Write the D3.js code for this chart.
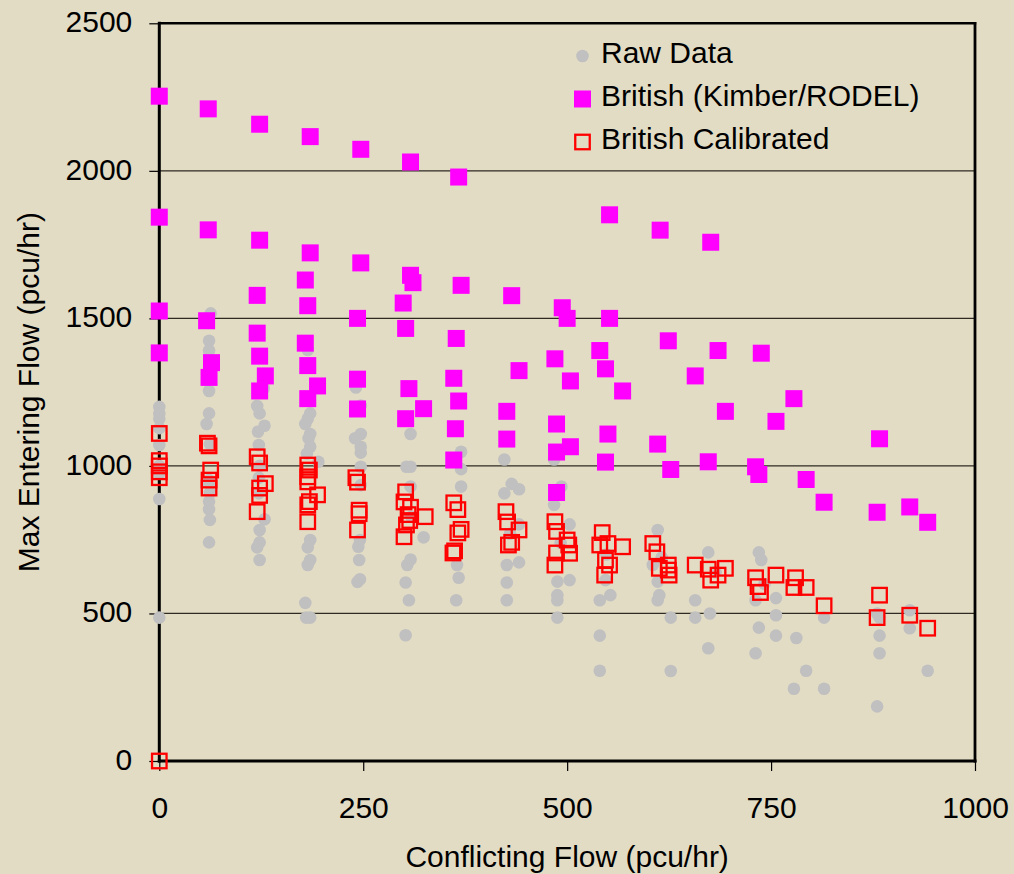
<!DOCTYPE html>
<html>
<head>
<meta charset="utf-8">
<script src="https://cdn.jsdelivr.net/npm/d3@7"></script>
<style>
  html, body { margin: 0; padding: 0; background: rgb(227,220,197); }
  svg { display: block; }
  text { font-family: "Liberation Sans", Arial, sans-serif; fill: #000; }
</style>
</head>
<body>
<svg id="chart" width="1014" height="874"></svg>
<script>
// ---- Data ----
const seriesNames = ["Raw Data", "British (Kimber/RODEL)", "British Calibrated"];
const xTicks = [0, 250, 500, 750, 1000];
const yTicks = [0, 500, 1000, 1500, 2000, 2500];

// Raw Data: conflicting flow / max entering flow
const rawX = [0,0,0,0,0,0,0,0,0,
  63,61,61,61,61,58,62,61,62,61,61,61,62,61,
  128,120,123,129,121,122,123,122,122,129,123,123,120,123,
  182,182,185,179,185,183,185,195,181,185,182,185,182,179,180,185,
  241,247,247,240,247,247,247,247,244,246,245,246,243,
  308,303,308,308,309,324,308,304,302,306,302,
  370,370,370,365,367,364,
  423,432,423,441,426,441,426,426,441,430,
  484,493,484,503,488,503,488,488,488,492,
  540,553,540,540,547,548,
  611,605,611,613,611,627,627,616,
  673,657,657,675,673,682,
  735,738,731,756,756,735,756,731,742,
  781,793,778,815,815,
  883,883,883,880,880,
  920,920,942];
const rawY = [1200,1178,1128,1071,1000,975,888,486,1160,
  1517,1424,1391,1254,1178,1142,1074,952,908,941,879,853,817,741,
  1263,1203,1178,1136,1116,1071,1000,960,907,819,783,741,724,681,
  1393,1160,1178,1142,1108,1094,1065,1014,1042,749,724,681,664,536,486,486,
  1266,1108,1065,1094,1045,997,935,1205,726,749,681,616,607,
  1108,997,997,930,828,758,683,664,605,545,426,
  1048,989,930,664,621,545,
  1022,939,907,921,664,673,605,545,802,770,
  1022,930,868,802,608,613,562,545,486,740,
  545,562,425,306,613,700,
  783,664,608,562,545,486,305,690,
  707,545,486,500,382,640,
  707,681,545,552,494,452,425,365,600,
  417,306,245,486,245,
  486,425,365,185,500,
  511,450,306];

// British (Kimber/RODEL)
const britX = [0,0,0,0,
  60,60,58,64,61,
  123,123,120,120,123,130,123,
  185,185,179,182,179,182,194,182,
  247,247,243,243,243,
  308,308,311,299,302,306,324,302,
  367,370,364,361,367,363,361,
  432,441,426,426,
  494,500,485,504,487,504,487,487,
  552,552,540,547,568,550,547,
  614,624,657,611,627,
  676,685,694,673,
  738,778,756,731,735,793,815,
  883,880,920,942];
const britY = [2253,1843,1525,1383,
  2210,1800,1492,1350,1300,
  2158,1765,1578,1450,1372,1305,1254,
  2116,1722,1630,1543,1416,1340,1271,1228,
  2073,1688,1500,1294,1193,
  2030,1646,1621,1552,1466,1262,1194,1160,
  1979,1612,1432,1297,1220,1126,1020,
  1577,1323,1185,1091,
  1536,1500,1363,1288,1142,1065,1047,910,
  1851,1500,1391,1329,1254,1108,1013,
  1799,1424,1305,1074,988,
  1758,1391,1185,1014,
  1382,1228,1151,997,971,954,877,
  1092,843,861,809];

// British Calibrated
const calX = [0,0,0,0,0,0,
  59,61,63,61,61,
  120,123,130,123,123,120,
  182,184,182,182,194,184,182,182,
  241,243,245,245,243,
  302,300,308,305,307,303,300,326,
  361,366,370,366,362,360,
  425,427,441,428,432,
  485,487,500,502,487,503,485,
  543,540,550,568,547,552,546,
  605,610,613,624,625,624,
  657,673,694,676,685,
  731,734,737,756,780,778,793,815,
  883,880,920,942];
const calY = [1110,1018,1000,980,960,0,
  1077,1068,986,952,925,
  1031,1010,940,925,900,845,
  1003,986,963,946,902,879,868,811,
  960,945,850,838,783,
  912,878,860,835,815,800,760,828,
  875,852,785,773,712,705,
  845,810,783,732,741,
  811,778,749,732,705,704,664,
  774,732,737,726,681,664,630,
  737,709,653,664,630,647,
  664,650,653,613,630,
  621,591,571,630,621,588,588,526,
  562,486,494,450];

// ---- Chart ----
const svg = d3.select("#chart");
const x = d3.scaleLinear().domain([0, 1000]).range([159.3, 975]);
const y = d3.scaleLinear().domain([0, 2500]).range([761, 23.3]);
const fmt = d3.format("d");

// gridlines
svg.append("g")
  .selectAll("line")
  .data(yTicks.filter(d => d > 0 && d < 2500))
  .join("line")
  .attr("x1", x(0)).attr("x2", x(1000))
  .attr("y1", d => y(d)).attr("y2", d => y(d))
  .attr("stroke", "#2e2a22").attr("stroke-width", 1.2);

// axes (ticks + labels)
const yAxis = d3.axisLeft(y).tickValues(yTicks).tickFormat(fmt).tickSize(10).tickPadding(17).tickSizeOuter(0);
const gy = svg.append("g").attr("transform", `translate(${x(0)},0)`).call(yAxis);
gy.select(".domain").remove();
gy.selectAll(".tick line").attr("stroke", "#000").attr("stroke-width", 1.2);
gy.selectAll(".tick text").attr("font-size", 30).attr("dy", "0.28em")
  .style("font-family", '"Liberation Sans", Arial, sans-serif');

const xAxis = d3.axisBottom(x).tickValues(xTicks).tickFormat(fmt).tickSize(10).tickPadding(26).tickSizeOuter(0);
const gx = svg.append("g").attr("transform", `translate(0,${y(0)})`).call(xAxis);
gx.select(".domain").remove();
gx.selectAll(".tick line").attr("stroke", "#000").attr("stroke-width", 1.2);
gx.selectAll(".tick text").attr("font-size", 30)
  .style("font-family", '"Liberation Sans", Arial, sans-serif');

// plot frame
const frame = svg.append("g").attr("stroke", "#000").attr("stroke-linecap", "square");
frame.append("line").attr("x1", x(0)).attr("x2", x(1000)).attr("y1", y(2500)).attr("y2", y(2500)).attr("stroke-width", 2.5);
frame.append("line").attr("x1", x(1000)).attr("x2", x(1000)).attr("y1", y(2500)).attr("y2", y(0)).attr("stroke-width", 2.8);
frame.append("line").attr("x1", x(0)).attr("x2", x(0)).attr("y1", y(2500)).attr("y2", y(0)).attr("stroke-width", 3);
frame.append("line").attr("x1", x(0)).attr("x2", x(1000)).attr("y1", y(0)).attr("y2", y(0)).attr("stroke-width", 3);

// axis titles
svg.append("text").attr("x", (x(0) + x(1000)) / 2).attr("y", 867)
  .attr("text-anchor", "middle").attr("font-size", 30).text("Conflicting Flow (pcu/hr)");
svg.append("text").attr("transform", `translate(38.5,${(y(0) + y(2500)) / 2}) rotate(-90)`)
  .attr("text-anchor", "middle").attr("font-size", 30).text("Max Entering Flow (pcu/hr)");

// series
const raw = rawX.map((d, i) => ({x: d, y: rawY[i]}));
const brit = britX.map((d, i) => ({x: d, y: britY[i]}));
const cal = calX.map((d, i) => ({x: d, y: calY[i]}));

svg.append("g").selectAll("circle").data(raw).join("circle")
  .attr("cx", d => x(d.x)).attr("cy", d => y(d.y)).attr("r", 6.3)
  .attr("fill", "#c0c0c0");

const bs = 17;
svg.append("g").selectAll("rect").data(brit).join("rect")
  .attr("x", d => x(d.x) - bs / 2).attr("y", d => y(d.y) - bs / 2)
  .attr("width", bs).attr("height", bs).attr("fill", "#ff00ff");

const cs = 14.5;
svg.append("g").selectAll("rect").data(cal).join("rect")
  .attr("x", d => x(d.x) - cs / 2).attr("y", d => y(d.y) - cs / 2)
  .attr("width", cs).attr("height", cs).attr("fill", "none")
  .attr("stroke", "#ff0000").attr("stroke-width", 2.3);

// legend
const lg = svg.append("g");
const legRows = [56, 99, 142];
lg.append("circle").attr("cx", 582.5).attr("cy", legRows[0]).attr("r", 6.3).attr("fill", "#c0c0c0");
lg.append("rect").attr("x", 582.5 - bs / 2).attr("y", legRows[1] - bs / 2).attr("width", bs).attr("height", bs).attr("fill", "#ff00ff");
lg.append("rect").attr("x", 582.5 - cs / 2).attr("y", legRows[2] - cs / 2).attr("width", cs).attr("height", cs)
  .attr("fill", "none").attr("stroke", "#ff0000").attr("stroke-width", 2.3);
lg.selectAll("text").data(seriesNames).join("text")
  .attr("x", 601).attr("y", (d, i) => [63, 106, 149][i])
  .attr("font-size", 30).text(d => d);
</script>
</body>
</html>
